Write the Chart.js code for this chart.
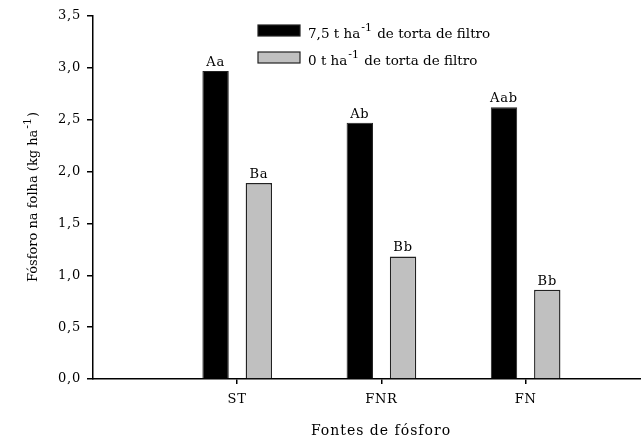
<!DOCTYPE html>
<html>
<head>
<meta charset="utf-8">
<script src="https://cdn.jsdelivr.net/npm/chart.js@4.4.0/dist/chart.umd.min.js"></script>
<style>
  html, body { margin: 0; padding: 0; background: #fff; }
  #wrap { width: 641px; height: 439px; position: relative; }
</style>
</head>
<body>
<div id="wrap"><canvas id="chart"></canvas></div>
<script>
  const categories = ["ST", "FNR", "FN"];
  const withFilterCake = [2.97, 2.47, 2.62];
  const withoutFilterCake = [1.89, 1.18, 0.86];
  const lettersWith = ["Aa", "Ab", "Aab"];
  const lettersWithout = ["Ba", "Bb", "Bb"];
  const yTicks = [0, 0.5, 1, 1.5, 2, 2.5, 3, 3.5];

  const serif = "'DejaVu Serif', 'Liberation Serif', serif";

  const toPoints = (vals) => vals.map((v, i) => ({ x: i + 1, y: v }));

  // the original text is a little stretched, so space the letters out a bit
  const spacingPlugin = {
    id: "spacing",
    beforeDraw(chart) {
      chart.ctx.letterSpacing = "0.8px";
    },
  };

  // letters above the bars
  const letterPlugin = {
    id: "letters",
    afterDatasetsDraw(chart) {
      const ctx = chart.ctx;
      ctx.save();
      ctx.letterSpacing = "0.8px";
      ctx.font = "13px " + serif;
      ctx.fillStyle = "#000";
      ctx.textAlign = "center";
      ctx.textBaseline = "bottom";
      chart.data.datasets.forEach((ds, di) => {
        const meta = chart.getDatasetMeta(di);
        meta.data.forEach((bar, i) => {
          ctx.fillText(ds.letters[i], bar.x, bar.y - 2);
        });
      });
      ctx.restore();
    },
  };

  // text with a "-1" superscript after the "ha" part
  const drawSup = (ctx, before, after, x, y, size) => {
    ctx.font = size + "px " + serif;
    ctx.fillText(before, x, y);
    let w = ctx.measureText(before).width;
    ctx.font = Math.round(size * 0.85) + "px " + serif;
    ctx.fillText("-1", x + w + 1, y - size * 0.5);
    w += ctx.measureText("-1").width + 1;
    ctx.font = size + "px " + serif;
    ctx.fillText(after, x + w + 1, y);
    return w + 1 + ctx.measureText(after).width;
  };

  const measureSup = (ctx, before, after, size) => {
    ctx.font = size + "px " + serif;
    let w = ctx.measureText(before).width + ctx.measureText(after).width + 2;
    ctx.font = Math.round(size * 0.85) + "px " + serif;
    return w + ctx.measureText("-1").width;
  };

  const legendPlugin = {
    id: "customLegend",
    afterDraw(chart) {
      const ctx = chart.ctx;
      ctx.save();
      ctx.letterSpacing = "0px";
      ctx.textAlign = "left";
      ctx.textBaseline = "alphabetic";
      chart.data.datasets.forEach((ds, i) => {
        const top = 25 + i * 27;
        ctx.fillStyle = ds.backgroundColor;
        ctx.strokeStyle = "#222";
        ctx.lineWidth = 1.2;
        ctx.fillRect(258, top, 42, 11);
        ctx.strokeRect(258, top, 42, 11);
        ctx.fillStyle = "#000";
        drawSup(ctx, ds.legendBefore, ds.legendAfter, 308, top + 13, 13.5);
      });

      // x axis title
      ctx.letterSpacing = "1px";
      ctx.textAlign = "center";
      ctx.font = "14px " + serif;
      ctx.fillText("Fontes de fósforo", 381, 435);

      // y axis title
      ctx.letterSpacing = "0px";
      ctx.textAlign = "left";
      ctx.translate(37, 197);
      ctx.rotate(-Math.PI / 2);
      const total = measureSup(ctx, "Fósforo na folha (kg ha", ")", 13);
      drawSup(ctx, "Fósforo na folha (kg ha", ")", -total / 2, 0, 13);
      ctx.restore();
    },
  };

  new Chart(document.getElementById("chart"), {
    type: "bar",
    data: {
      datasets: [
        {
          data: toPoints(withFilterCake),
          letters: lettersWith,
          legendBefore: "7,5 t ha",
          legendAfter: " de torta de filtro",
          backgroundColor: "#000000",
          borderColor: "#222222",
          borderWidth: 1,
          categoryPercentage: 0.6,
          barPercentage: 0.61,
        },
        {
          data: toPoints(withoutFilterCake),
          letters: lettersWithout,
          legendBefore: "0 t ha",
          legendAfter: " de torta de filtro",
          backgroundColor: "#c0c0c0",
          borderColor: "#222222",
          borderWidth: 1.4,
          categoryPercentage: 0.6,
          barPercentage: 0.61,
        },
      ],
    },
    options: {
      responsive: true,
      maintainAspectRatio: false,
      animation: false,
      layout: { padding: { top: 16, right: 0, left: 0, bottom: 0 } },
      plugins: {
        legend: { display: false },
        tooltip: { enabled: false },
      },
      scales: {
        x: {
          type: "linear",
          min: 0,
          max: 3.8,
          offset: false,
          afterBuildTicks: (scale) => {
            scale.ticks = categories.map((_, i) => ({ value: i + 1 }));
          },
          afterFit: (scale) => { scale.height = 60; },
          ticks: {
            color: "#000",
            font: { family: serif, size: 13 },
            padding: 8,
            callback: (v) => categories[v - 1] || "",
          },
          grid: { offset: false, drawOnChartArea: false, drawTicks: true, tickLength: 5, color: "#000", tickColor: "#000", lineWidth: 1.5 },
          border: { color: "#000", width: 1.5 },
        },
        y: {
          min: 0,
          max: 3.5,
          afterBuildTicks: (scale) => {
            scale.ticks = yTicks.map((v) => ({ value: v }));
          },
          afterFit: (scale) => { scale.width = 93; },
          ticks: {
            color: "#000",
            font: { family: serif, size: 13 },
            padding: 6,
            callback: (v) => v.toFixed(1).replace(".", ","),
          },
          grid: { drawOnChartArea: false, drawTicks: true, tickLength: 6, color: "#000", lineWidth: 1.5 },
          border: { color: "#000", width: 1.5 },
        },
      },
    },
    plugins: [spacingPlugin, letterPlugin, legendPlugin],
  });
</script>
</body>
</html>
